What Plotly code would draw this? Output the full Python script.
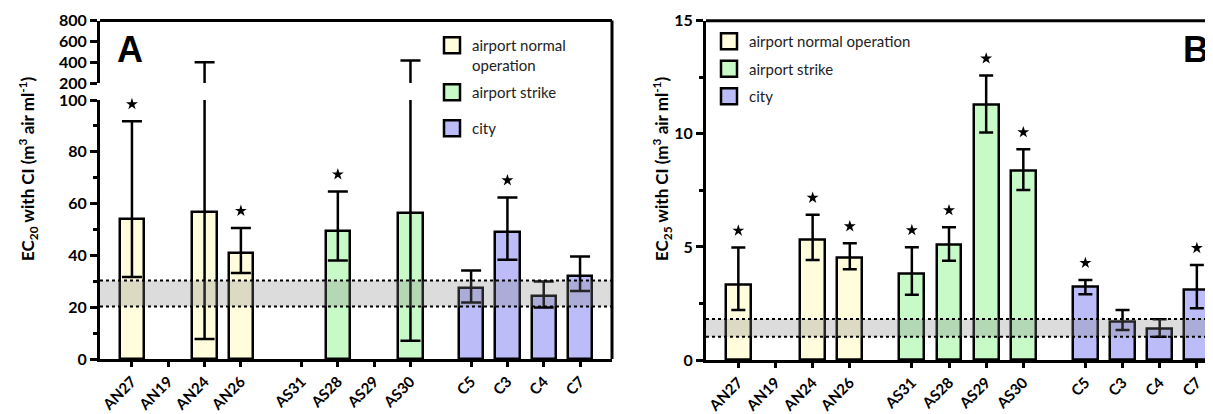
import plotly.graph_objects as go

W, H = 1213, 414

sites = ["AN27", "AN19", "AN24", "AN26", "AS31", "AS28", "AS29", "AS30", "C5", "C3", "C4", "C7"]
groups = ["airport normal operation"] * 4 + ["airport strike"] * 4 + ["city"] * 4
group_names = ["airport normal operation", "airport strike", "city"]
group_colors = ["#FFFDDB", "#C8FAC8", "#BCBDF8"]

# Panel A: EC20 with CI
ec20 = [54.0, None, 56.7, 41.1, None, 49.5, None, 56.4, 27.3, 48.9, 24.5, 32.2]
ec20_lo = [31.7, None, 7.7, 33.2, None, 38.0, None, 7.0, 21.8, 38.3, 19.9, 26.3]
ec20_hi = [91.8, None, 400, 50.6, None, 64.7, None, 415, 34.2, 62.4, 29.9, 39.6]
ec20_sig = [1, 0, 0, 1, 0, 1, 0, 0, 0, 1, 0, 0]
band20 = [20.3, 30.3]

# Panel B: EC25 with CI
ec25 = [3.32, None, 5.34, 4.54, 3.80, 5.09, 11.28, 8.38, 3.22, 1.70, 1.37, 3.10]
ec25_lo = [2.21, None, 4.42, 4.01, 2.88, 4.39, 10.06, 7.52, 2.91, 1.33, 1.03, 2.29]
ec25_hi = [4.97, None, 6.42, 5.16, 4.99, 5.87, 12.58, 9.32, 3.54, 2.21, 1.80, 4.20]
ec25_sig = [1, 0, 1, 1, 1, 1, 1, 1, 1, 0, 0, 1]
band25 = [1.03, 1.81]

FONT = "Lato"
GAP = 0.67
pos = [gi * (4 + GAP) + i for gi in range(3) for i in range(4)]

OX, OY = 8, 8  # page offset of the plot div


def fx(px):
    return (px - OX) / W


def fy(py):
    return 1 - (py - OY) / H


fig = go.Figure()


def add_bars(vals, lo, hi, xa, ya, capw):
    for g, col in zip(group_names, group_colors):
        idx = [k for k in range(len(sites)) if groups[k] == g and vals[k] is not None]
        fig.add_trace(go.Bar(
            x=[pos[k] for k in idx], y=[vals[k] for k in idx], width=0.67,
            marker=dict(color=col, line=dict(color="black", width=2.5)),
            error_y=dict(type="data", symmetric=False,
                         array=[hi[k] - vals[k] for k in idx],
                         arrayminus=[vals[k] - lo[k] for k in idx],
                         color="black", thickness=2.5, width=capw),
            xaxis=xa, yaxis=ya, showlegend=False, hoverinfo="skip"))


def add_stars(hi, sig, off, xa, ya):
    idx = [k for k in range(len(sites)) if sig[k]]
    fig.add_trace(go.Scatter(
        x=[pos[k] for k in idx], y=[hi[k] + off for k in idx], mode="markers",
        marker=dict(symbol="star", size=9, color="black"), cliponaxis=False,
        xaxis=xa, yaxis=ya, showlegend=False, hoverinfo="skip"))


add_bars(ec20, ec20_lo, ec20_hi, "x", "y", 10)
add_bars(ec20, ec20_lo, ec20_hi, "x", "y3", 10)
add_stars(ec20_hi, ec20_sig, 6.6, "x", "y")
add_bars(ec25, ec25_lo, ec25_hi, "x2", "y2", 7)
add_stars(ec25_hi, ec25_sig, 0.75, "x2", "y2")

# legend entries: panel A uses one legend per entry (legend, legend3, legend4), panel B legend2
legA = [("legend", "airport normal<br>operation"), ("legend3", "airport strike"), ("legend4", "city")]
for (lg, lab), col in zip(legA, group_colors):
    fig.add_trace(go.Scatter(
        x=[None], y=[None], mode="markers", name=lab, legend=lg,
        marker=dict(symbol="square", size=16, color=col, line=dict(color="black", width=2.5)),
        xaxis="x2", yaxis="y2"))
for lab, col in zip(group_names, group_colors):
    fig.add_trace(go.Scatter(
        x=[None], y=[None], mode="markers", name=lab, legend="legend2",
        legendgroup="B_" + lab,
        marker=dict(symbol="square", size=16, color=col, line=dict(color="black", width=2.5)),
        xaxis="x2", yaxis="y2"))

tickfont = dict(family=FONT, size=16, color="black", weight="bold")
xtickfont = dict(family=FONT, size=15, color="black", weight="bold")
ax_common = dict(showline=True, linecolor="black", linewidth=3, ticks="outside",
                 tickcolor="black", tickwidth=2.5, showgrid=False, zeroline=False,
                 fixedrange=True)
legfont = dict(family=FONT, size=15, color="#222")


def leg(xp, yp, **kw):
    return dict(x=fx(xp), y=fy(yp), xanchor="left", yanchor="top", valign="top",
                itemsizing="trace", bgcolor="rgba(0,0,0,0)", font=legfont, **kw)


fig.update_layout(
    width=W, height=H, margin=dict(l=0, r=0, t=0, b=0, autoexpand=False),
    paper_bgcolor="white", plot_bgcolor="rgba(0,0,0,0)",
    bargap=0, barmode="overlay",
    xaxis=dict(domain=[fx(100), fx(612)], range=[-0.88, 13.22], anchor="y",
               tickvals=pos, ticktext=sites, tickangle=-45, ticklen=5,
               tickfont=xtickfont, **ax_common),
    yaxis=dict(domain=[fy(359), fy(100)], range=[0, 100], anchor="x",
               tickvals=[0, 20, 40, 60, 80, 100], ticklen=7, tickfont=tickfont,
               minor=dict(tickvals=[10, 30, 50, 70, 90], ticklen=4, ticks="outside",
                          tickcolor="black", tickwidth=2.5),
               **ax_common),
    yaxis3=dict(domain=[fy(83), fy(20.5)], range=[200, 800], anchor="x",
                tickvals=[200, 400, 600, 800], ticklen=7, tickfont=tickfont, **ax_common),
    xaxis2=dict(domain=[fx(706), 1.0], range=[-0.87, 12.99], anchor="y2",
                tickvals=pos, ticktext=sites, tickangle=-45, ticklen=5,
                tickfont=xtickfont, **ax_common),
    yaxis2=dict(domain=[fy(360), fy(20.7)], range=[0, 15], anchor="x2",
                tickvals=[0, 5, 10, 15], ticklen=7, tickfont=tickfont,
                minor=dict(tickvals=[2.5, 7.5, 12.5], ticklen=4, ticks="outside",
                           tickcolor="black", tickwidth=2.5),
                **ax_common),
    legend=leg(432, 29),
    legend3=leg(432, 76),
    legend4=leg(432, 112),
    legend2=leg(709, 25, tracegroupgap=5),
)

shapes = []
for xr, yr, band in (("x", "y", band20), ("x2", "y2", band25)):
    shapes.append(dict(type="rect", xref=xr + " domain", yref=yr, x0=0, x1=1,
                       y0=band[0], y1=band[1], fillcolor="rgba(128,128,128,0.28)",
                       line=dict(width=0), layer="above"))
    for b in band:
        shapes.append(dict(type="line", xref=xr + " domain", yref=yr, x0=0, x1=1,
                           y0=b, y1=b, line=dict(color="black", width=2, dash="dot"),
                           layer="above"))
# frame lines (top / right)
shapes.append(dict(type="line", xref="paper", yref="paper", x0=fx(100), x1=fx(612),
                   y0=fy(20.5), y1=fy(20.5), line=dict(color="black", width=3)))
shapes.append(dict(type="line", xref="paper", yref="paper", x0=fx(612), x1=fx(612),
                   y0=fy(20.5), y1=fy(359), line=dict(color="black", width=3)))
shapes.append(dict(type="line", xref="paper", yref="paper", x0=fx(706), x1=1.0,
                   y0=fy(20.7), y1=fy(20.7), line=dict(color="black", width=3)))
fig.update_layout(shapes=shapes)

ytitle = "EC<sub>%s</sub> with CI (m<sup>3</sup> air ml<sup>-1</sup>)"
for xp, sub in ((28, "20"), (662, "25")):
    fig.add_annotation(x=fx(xp), y=fy(169), xref="paper", yref="paper", text=ytitle % sub,
                       textangle=-90, showarrow=False, xanchor="center", yanchor="middle",
                       font=dict(family=FONT, size=17, color="black", weight="bold"))
for xp, lab in ((130, "A"), (1196, "B")):
    fig.add_annotation(x=fx(xp), y=fy(49), xref="paper", yref="paper", text=lab,
                       showarrow=False, xanchor="center", yanchor="middle",
                       font=dict(family="Liberation Sans", size=36, color="black",
                                 weight="bold"))

fig.write_html("out.html")
